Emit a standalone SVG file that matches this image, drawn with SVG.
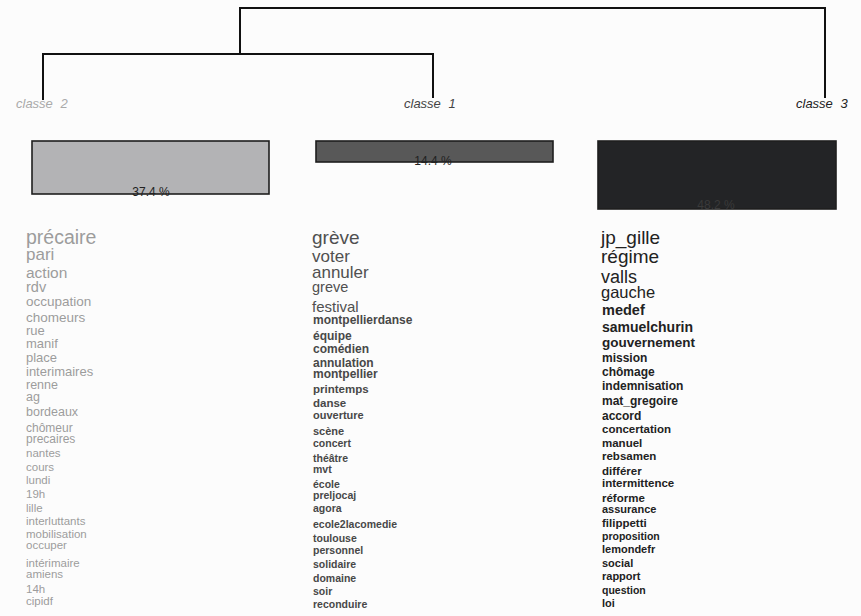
<svg xmlns="http://www.w3.org/2000/svg" width="861" height="616" viewBox="0 0 861 616">
<style>
text{font-family:"Liberation Sans",Arial,sans-serif}
.lbl{font-style:italic;font-size:13px;word-spacing:4px}
.pct{font-size:12px;text-anchor:middle;fill:#222}
.bar{stroke:#1e1e1e;stroke-width:1.6}
.c2{fill:#9c9c9c}
.c1{fill:#505050}
.c1b{fill:#484848;font-weight:bold}
.c3{fill:#222}
.c3b{fill:#222;font-weight:bold}
.dendro{stroke:#111;stroke-width:2;fill:none}
</style>
<rect width="861" height="616" fill="#fcfcfc"/>
<g id="connectors" class="dendro">
<path d="M240 54 V8 H825 V98"/>
<path d="M43 100 V54 H433 V98"/>
</g>
<g id="classe2">
<text class="lbl" x="16" y="108" fill="#aaa">classe 2</text>
<rect class="bar" x="32" y="141" width="237" height="53" fill="#b3b3b5"/>
<text class="pct" x="151" y="196">37.4 %</text>
<g class="c2">
<text x="26" y="244" font-size="19.5">précaire</text>
<text x="26" y="260" font-size="17">pari</text>
<text x="26" y="278" font-size="15.5">action</text>
<text x="26" y="292" font-size="14.5">rdv</text>
<text x="26" y="306" font-size="13.5">occupation</text>
<text x="26" y="322" font-size="13.5">chomeurs</text>
<text x="26" y="335" font-size="13">rue</text>
<text x="26" y="348" font-size="13">manif</text>
<text x="26" y="362" font-size="13">place</text>
<text x="26" y="376" font-size="13">interimaires</text>
<text x="26" y="389" font-size="12.5">renne</text>
<text x="26" y="401" font-size="12.5">ag</text>
<text x="26" y="416" font-size="12.5">bordeaux</text>
<text x="26" y="432" font-size="12">chômeur</text>
<text x="26" y="443" font-size="12">precaires</text>
<text x="26" y="457" font-size="11.5">nantes</text>
<text x="26" y="471" font-size="11.5">cours</text>
<text x="26" y="484" font-size="11.5">lundi</text>
<text x="26" y="498" font-size="11.5">19h</text>
<text x="26" y="512" font-size="11.5">lille</text>
<text x="26" y="525" font-size="11.5">interluttants</text>
<text x="26" y="538" font-size="11.5">mobilisation</text>
<text x="26" y="549" font-size="11.5">occuper</text>
<text x="26" y="567" font-size="11.5">intérimaire</text>
<text x="26" y="578" font-size="11.5">amiens</text>
<text x="26" y="593" font-size="11.5">14h</text>
<text x="26" y="605" font-size="11.5">cipidf</text>
</g>
</g>
<g id="classe1">
<text class="lbl" x="404" y="108" fill="#444">classe 1</text>
<rect class="bar" x="316" y="141" width="237" height="21" fill="#585858"/>
<text class="pct" x="433" y="165">14.4 %</text>
<text class="c1" x="312" y="244" font-size="19">grève</text>
<text class="c1" x="312" y="262" font-size="17">voter</text>
<text class="c1" x="312" y="278" font-size="17">annuler</text>
<text class="c1" x="312" y="292" font-size="14.5">greve</text>
<text class="c1" x="312" y="312" font-size="15">festival</text>
<g class="c1b">
<text x="313" y="324" font-size="12">montpellierdanse</text>
<text x="313" y="340" font-size="12">équipe</text>
<text x="313" y="353" font-size="12">comédien</text>
<text x="313" y="367" font-size="12">annulation</text>
<text x="313" y="378" font-size="12">montpellier</text>
<text x="313" y="393" font-size="11.5">printemps</text>
<text x="313" y="407" font-size="11.5">danse</text>
<text x="313" y="419" font-size="11">ouverture</text>
<text x="313" y="435" font-size="11">scène</text>
<text x="313" y="447" font-size="10.5">concert</text>
<text x="313" y="462" font-size="10.5">théâtre</text>
<text x="313" y="473" font-size="10.5">mvt</text>
<text x="313" y="488" font-size="10.5">école</text>
<text x="313" y="499" font-size="10.5">preljocaj</text>
<text x="313" y="512" font-size="10.5">agora</text>
<text x="313" y="528" font-size="10.5">ecole2lacomedie</text>
<text x="313" y="542" font-size="10.5">toulouse</text>
<text x="313" y="554" font-size="10.5">personnel</text>
<text x="313" y="568" font-size="10.5">solidaire</text>
<text x="313" y="582" font-size="10.5">domaine</text>
<text x="313" y="595" font-size="10.5">soir</text>
<text x="313" y="608" font-size="10.5">reconduire</text>
</g>
</g>
<g id="classe3">
<text class="lbl" x="796" y="108" fill="#222">classe 3</text>
<rect class="bar" x="598" y="141" width="238" height="68" fill="#232426"/>
<text class="pct" x="716" y="209" style="fill:#3a3a3a">48.2 %</text>
<text class="c3" x="601" y="244" font-size="19">jp_gille</text>
<text class="c3" x="601" y="263" font-size="19">régime</text>
<text class="c3" x="601" y="283" font-size="18">valls</text>
<text class="c3" x="601" y="298" font-size="16.5">gauche</text>
<g class="c3b">
<text x="602" y="315" font-size="14.5">medef</text>
<text x="602" y="332" font-size="14">samuelchurin</text>
<text x="602" y="347" font-size="13.5">gouvernement</text>
<text x="602" y="362" font-size="12">mission</text>
<text x="602" y="376" font-size="12">chômage</text>
<text x="602" y="390" font-size="12">indemnisation</text>
<text x="602" y="405" font-size="12">mat_gregoire</text>
<text x="602" y="420" font-size="12">accord</text>
<text x="602" y="433" font-size="11.5">concertation</text>
<text x="602" y="447" font-size="11.5">manuel</text>
<text x="602" y="460" font-size="11.5">rebsamen</text>
<text x="602" y="475" font-size="11.5">différer</text>
<text x="602" y="487" font-size="11.5">intermittence</text>
<text x="602" y="502" font-size="11.5">réforme</text>
<text x="602" y="513" font-size="11">assurance</text>
<text x="602" y="527" font-size="11.5">filippetti</text>
<text x="602" y="540" font-size="10.5">proposition</text>
<text x="602" y="553" font-size="11">lemondefr</text>
<text x="602" y="567" font-size="11">social</text>
<text x="602" y="580" font-size="11">rapport</text>
<text x="602" y="594" font-size="10.5">question</text>
<text x="602" y="607" font-size="11">loi</text>
</g>
</g>
</svg>
